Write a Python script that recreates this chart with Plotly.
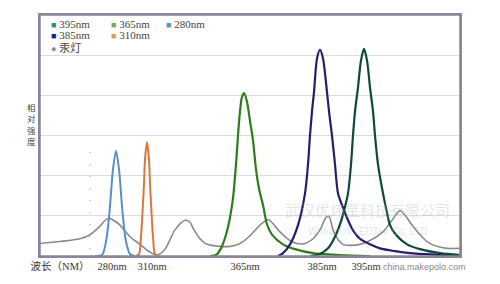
import plotly.graph_objects as go

# x: horizontal position units (schematic axis), y: relative intensity
lamp_x = [0, 20, 40, 50, 60, 68, 78, 90, 100, 110, 117, 125, 135, 145, 150, 153, 160, 167, 180, 190, 200,
          210, 220, 228, 235, 240, 250, 257, 265, 273, 280, 286, 289, 293, 298, 303, 310, 320, 330, 343,
          352, 360, 366, 372, 380, 387, 397, 407, 420]
lamp_y = [6.2, 7.2, 8.6, 10.6, 14.9, 18.7, 16.3, 9.6, 5.8, 1.9, 0.5, 3.4, 13.0, 17.8, 16.8, 13.9, 8.6, 5.8,
          4.8, 4.8, 6.2, 10.1, 15.4, 18.2, 14.9, 12.0, 7.7, 6.2, 6.2, 8.6, 13.0, 19.2, 19.7, 13.0, 8.2,
          5.8, 5.3, 5.8, 7.7, 12.0, 17.8, 22.6, 19.7, 15.4, 10.6, 7.2, 4.8, 3.8, 3.8]

uv280_x = [55, 62, 66, 69, 71, 73, 76, 79, 81, 83, 86, 90, 95]
uv280_y = [0, 0.5, 7.2, 19.2, 31.2, 43.2, 52.3, 43.2, 31.2, 19.2, 7.2, 1.0, 0]

uv310_x = [96, 99, 101, 103, 104, 105, 107, 109, 110, 111, 113, 115, 118]
uv310_y = [0, 1.0, 9.6, 26.4, 36.0, 48.0, 56.6, 48.0, 36.0, 26.4, 9.6, 1.0, 0]

uv365_x = [170, 176, 181, 186, 190, 193, 196, 198, 200, 202, 204, 207, 210, 213, 216, 219, 223, 227, 232,
           243, 255, 273, 300, 330]
uv365_y = [0, 0.5, 3.8, 10.6, 19.2, 28.8, 45.6, 60.0, 72.0, 79.2, 81.1, 76.8, 67.2, 57.6, 43.2, 33.6,
           25.4, 15.8, 10.6, 5.8, 3.4, 1.4, 0.5, 0]

uv385_x = [238, 243, 250, 258, 265, 268, 270, 272, 274, 277, 280, 283, 287, 289, 292, 295, 298, 302, 308,
           314, 320, 330, 340, 355, 370, 400, 420]
uv385_y = [0, 1.4, 5.8, 15.4, 31.2, 45.6, 60.0, 72.0, 81.6, 98.4, 102.7, 98.4, 81.6, 72.0, 60.0, 45.6,
           31.2, 25.4, 17.8, 12.0, 8.6, 5.8, 3.8, 2.4, 1.4, 0.5, 0]

uv395_x = [270, 280, 288, 294, 300, 304, 308, 311, 313, 315, 318, 321, 324, 327, 330, 333, 335, 338, 343,
           347, 350, 356, 367, 380, 400, 420]
uv395_y = [0, 1.0, 3.8, 8.6, 15.8, 22.6, 31.2, 45.6, 60.0, 72.0, 84.0, 97.4, 103.2, 97.4, 84.0, 72.0,
           60.0, 45.6, 31.2, 21.6, 15.4, 10.6, 5.8, 3.4, 1.4, 0.5]

marker_x = [50, 50]
marker_y = [3.4, 56.6]

tick_vals = [20, 72, 112, 205, 282, 326]
tick_text = ["波长（NM）", "280nm", "310nm", "365nm", "385nm", "395nm"]

y_title_chars = ["相", "对", "强", "度"]

legend_items = [("395nm", "#3a8a70", "■"), ("385nm", "#1e1e9a", "■"), ("汞灯", "#888888", "●"),
                ("365nm", "#7aa84a", "■"), ("310nm", "#e8955a", "■"), ("280nm", "#5b8fc7", "■")]

fig = go.Figure()
fig.add_trace(go.Scatter(x=marker_x, y=marker_y, mode="lines",
                         line=dict(color="#9a9a9a", width=1.2, dash="1px,11px"), hoverinfo="skip"))
series = [
    (lamp_x, lamp_y, "#8a8a8a", 1.6),
    (uv280_x, uv280_y, "#5b8fc7", 2.0),
    (uv310_x, uv310_y, "#d9773f", 2.0),
    (uv365_x, uv365_y, "#2e7d1a", 2.2),
    (uv385_x, uv385_y, "#2b1b6b", 2.2),
    (uv395_x, uv395_y, "#0e4a3a", 2.2),
]
for xs, ys, c, w in series:
    fig.add_trace(go.Scatter(x=xs, y=ys, mode="lines", line=dict(color=c, width=w, shape="spline", smoothing=0.8)))

annotations = []
# legend as text entries
pos = [(0.022, 0.962), (0.022, 0.918), (0.022, 0.862), (0.165, 0.962), (0.165, 0.918), (0.295, 0.962)]
for (name, col, sym), (px, py) in zip(legend_items, pos):
    annotations.append(dict(xref="paper", yref="paper", x=px, y=py, xanchor="left", yanchor="middle",
                            showarrow=False,
                            text=f"<span style='color:{col};font-size:9px'>{sym}</span> {name}",
                            font=dict(family="Liberation Serif, Noto Sans CJK SC", size=11, color="#444")))
for i, ch in enumerate(y_title_chars):
    annotations.append(dict(xref="paper", yref="paper", x=-0.02, y=0.62 - i * 0.048, xanchor="center",
                            yanchor="middle", showarrow=False, text=ch,
                            font=dict(family="Noto Sans CJK SC", size=8.5, color="#444")))
annotations.append(dict(xref="paper", yref="paper", x=0.78, y=0.195, xanchor="center", yanchor="middle",
                        showarrow=False, text="武汉优炜星科技有限公司",
                        font=dict(family="Noto Sans CJK SC", size=15, color="rgba(180,180,180,0.35)")))
annotations.append(dict(xref="paper", yref="paper", x=0.78, y=0.1, xanchor="center", yanchor="middle",
                        showarrow=False, text="WuhanUVLEDTek Co.,LTD",
                        font=dict(family="Liberation Sans", size=10, color="rgba(180,180,180,0.35)")))
annotations.append(dict(xref="paper", yref="paper", x=1.02, y=-0.076, xanchor="right", yanchor="bottom",
                        showarrow=False, text="china.makepolo.com",
                        font=dict(family="Liberation Sans", size=9, color="#888")))

fig.update_layout(
    width=500, height=284,
    margin=dict(l=40, r=40, t=15, b=19),
    paper_bgcolor="white", plot_bgcolor="white",
    showlegend=False,
    annotations=annotations,
    shapes=[dict(type="rect", xref="paper", yref="paper", x0=0, x1=1, y0=0, y1=1,
                 line=dict(color="#8a8598", width=1.5), layer="above")],
    xaxis=dict(range=[0, 420], showgrid=False, zeroline=False, tickvals=tick_vals, ticktext=tick_text,
               ticks="", showline=True, mirror=True, linecolor="#8a8598", linewidth=1.5,
               tickfont=dict(family="Liberation Serif, Noto Sans CJK SC", size=10.5, color="#333"),
               ticklabelstandoff=0),
    yaxis=dict(range=[0, 120], dtick=20, showgrid=True, gridcolor="#dcdcdc", gridwidth=1,
               showticklabels=False, ticks="", showline=True, mirror=True, linecolor="#8a8598",
               linewidth=1.5, zeroline=True, zerolinecolor="#3c3a7a", zerolinewidth=2),
)
fig.write_html("out.html")
